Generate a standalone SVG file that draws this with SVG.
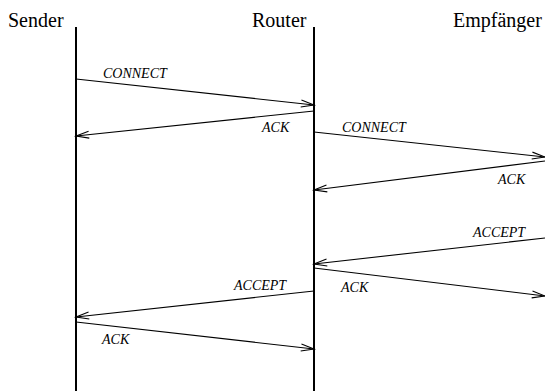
<svg xmlns="http://www.w3.org/2000/svg" width="545" height="391" viewBox="0 0 545 391">
<style>
.title{font-family:"Liberation Serif","Times New Roman",serif;font-size:20px;fill:#000}
.lbl{font-family:"Liberation Serif","Times New Roman",serif;font-size:14px;font-style:italic;fill:#000}
.life{stroke:#000;stroke-width:2;fill:none}
.msg{stroke:#000;stroke-width:1.1;fill:none;marker-end:url(#arr)}
</style>
<defs>
<marker id="arr" markerUnits="userSpaceOnUse" viewBox="-14 -6 16 12" refX="0" refY="0" markerWidth="16" markerHeight="12" orient="auto">
<path d="M-13,-3.5 L0,0 L-13,3.5" fill="none" stroke="#000" stroke-width="1.1"/>
</marker>
</defs>
<rect width="545" height="391" fill="#fff"/>
<g id="sender">
<text class="title" x="8" y="27">Sender</text>
<line class="life" x1="76" y1="27" x2="76" y2="391"/>
</g>
<g id="router">
<text class="title" x="252" y="27">Router</text>
<line class="life" x1="314" y1="27" x2="314" y2="391"/>
</g>
<g id="empfaenger">
<text class="title" x="453" y="27">Empfänger</text>
</g>
<g id="connectors">
<line class="msg" x1="76" y1="79" x2="314" y2="105"/>
<line class="msg" x1="314" y1="111" x2="76" y2="136"/>
<line class="msg" x1="314" y1="132" x2="545" y2="157"/>
<line class="msg" x1="545" y1="161" x2="314" y2="190"/>
<line class="msg" x1="545" y1="238" x2="314" y2="264"/>
<line class="msg" x1="314" y1="268" x2="545" y2="296"/>
<line class="msg" x1="314" y1="291" x2="76" y2="317"/>
<line class="msg" x1="76" y1="322" x2="314" y2="349"/>
</g>
<g id="labels">
<text class="lbl" x="103" y="78">CONNECT</text>
<text class="lbl" x="262" y="132">ACK</text>
<text class="lbl" x="342" y="132">CONNECT</text>
<text class="lbl" x="498" y="184">ACK</text>
<text class="lbl" x="473" y="237">ACCEPT</text>
<text class="lbl" x="341" y="292">ACK</text>
<text class="lbl" x="234" y="290">ACCEPT</text>
<text class="lbl" x="102" y="344">ACK</text>
</g>
</svg>
